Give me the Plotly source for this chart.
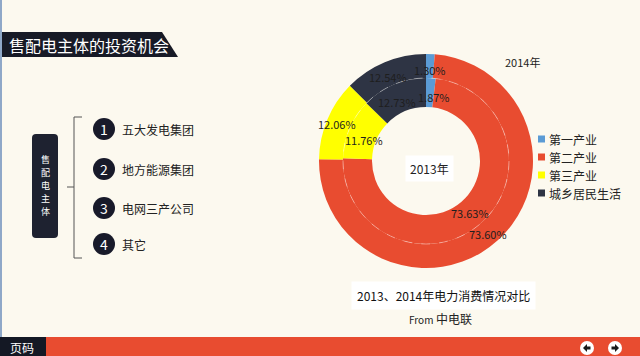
import plotly.graph_objects as go

# ---- data ----
categories = ["第一产业", "第二产业", "第三产业", "城乡居民生活"]
values_2013 = [1.87, 73.63, 11.76, 12.73]
values_2014 = [1.30, 73.60, 12.06, 12.54]
colors = ["#5B9BD5", "#E84C30", "#FFFF00", "#2E3444"]
subjects = ["五大发电集团", "地方能源集团", "电网三产公司", "其它"]
box_title = "售配电主体"

W, H = 640, 356
FONT = "Noto Sans CJK SC"
BG = "#FCF9EF"
DARK = "#171A26"


def dom_x(cx, r):
    return [(cx - r) / W, (cx + r) / W]


def dom_y(cy, r):
    yb = H - cy
    return [(yb - r) / H, (yb + r) / H]


CX, CY = 426, 161
R_OUT, R_MID, R_HOLE = 107, 83, 54

fig = go.Figure()
# empty helper trace so that pixel-based x/y axes exist for shapes & annotations
fig.add_trace(go.Scatter(x=[], y=[], showlegend=False, hoverinfo="skip"))
fig.add_trace(go.Pie(
    labels=categories, values=values_2014, sort=False, direction="clockwise",
    rotation=0, hole=R_MID / R_OUT, textinfo="none", hoverinfo="label+value",
    marker=dict(colors=colors, line=dict(width=0)),
    domain=dict(x=dom_x(CX, R_OUT), y=dom_y(CY, R_OUT)), showlegend=False,
    name="2014"))
fig.add_trace(go.Pie(
    labels=categories, values=values_2013, sort=False, direction="clockwise",
    rotation=0, hole=R_HOLE / R_MID, textinfo="none", hoverinfo="label+value",
    marker=dict(colors=colors, line=dict(width=0)),
    domain=dict(x=dom_x(CX, R_MID), y=dom_y(CY, R_MID)), showlegend=False,
    name="2013"))

fig.update_xaxes(range=[0, W], visible=False, fixedrange=True, domain=[0, 1])
fig.update_yaxes(range=[H, 0], visible=False, fixedrange=True, domain=[0, 1])

shapes = []
ann = []

# left slide border
shapes.append(dict(type="rect", x0=0, x1=2, y0=0, y1=H, fillcolor="#8FA8C8", line_width=0, layer="below"))
# title parallelogram
shapes.append(dict(type="path", path="M 2 32 L 162 32 L 178 57 L 2 57 Z", fillcolor=DARK, line_width=0, layer="below"))
ann.append(dict(x=7, y=45, text="售配电主体的投资机会", showarrow=False, xanchor="left", yanchor="middle",
                font=dict(family=FONT, size=16, color="white")))

# left rounded box
shapes.append(dict(type="path",
                   path="M 36 134 L 54 134 Q 58 134 58 138 L 58 234 Q 58 238 54 238 L 36 238 Q 32 238 32 234 L 32 138 Q 32 134 36 134 Z",
                   fillcolor="#1E2230", line_width=0, layer="below"))
for k, ch in enumerate(box_title):
    ann.append(dict(x=45, y=185.5 + (k - 2) * 13.2, text=ch, showarrow=False, xanchor="center", yanchor="middle",
                    font=dict(family=FONT, size=9, color="white")))

# bracket
shapes.append(dict(type="path", path="M 82 117 L 74 117 L 74 258 L 82 258", line=dict(color="#555555", width=1), layer="below"))
shapes.append(dict(type="line", x0=67, x1=74, y0=187, y1=187, line=dict(color="#555555", width=1), layer="below"))

item_y = [129, 169, 208, 244]
for i, (txt, yy) in enumerate(zip(subjects, item_y)):
    shapes.append(dict(type="circle", x0=93, x1=115, y0=yy - 11, y1=yy + 11, fillcolor="#181A2A", line_width=0, layer="below"))
    ann.append(dict(x=104, y=yy, text=str(i + 1), showarrow=False, xanchor="center", yanchor="middle",
                    font=dict(family=FONT, size=14, color="white")))
    ann.append(dict(x=120, y=yy, text=txt, showarrow=False, xanchor="left", yanchor="middle",
                    font=dict(family=FONT, size=12, color="#222222")))

# ring separator (faint)
shapes.append(dict(type="circle", x0=CX - R_MID, x1=CX + R_MID, y0=CY - R_MID, y1=CY + R_MID,
                   line=dict(color="rgba(255,255,255,0.4)", width=1, dash="dash"), layer="above"))

# pie labels
lab_fmt = lambda v: f"{v:.2f}%"
pos_2014 = [(430, 70), (488, 234), (337, 124), (388, 77)]
pos_2013 = [(434, 97), (470, 213), (364, 140), (397, 102)]
for v, (x, y) in zip(values_2014, pos_2014):
    ann.append(dict(x=x, y=y, text=lab_fmt(v), showarrow=False, xanchor="center", yanchor="middle",
                    font=dict(family="Liberation Sans Narrow, " + FONT, size=11, color="#1E1E1E")))
for v, (x, y) in zip(values_2013, pos_2013):
    ann.append(dict(x=x, y=y, text=lab_fmt(v), showarrow=False, xanchor="center", yanchor="middle",
                    font=dict(family="Liberation Sans Narrow, " + FONT, size=11, color="#1E1E1E")))

ann.append(dict(x=522, y=62, text="2014年", showarrow=False, xanchor="center", yanchor="middle",
                font=dict(family=FONT, size=11, color="#222222")))
ann.append(dict(x=CX + 3, y=168, text="2013年", showarrow=False, xanchor="center", yanchor="middle",
                bgcolor="white", borderpad=4,
                font=dict(family=FONT, size=12, color="#222222")))

# custom legend
leg_y = [139, 157, 175, 193]
for cat, col, yy in zip(categories, colors, leg_y):
    shapes.append(dict(type="rect", x0=538, x1=545, y0=yy - 3.5, y1=yy + 3.5, fillcolor=col, line_width=0, layer="above"))
    ann.append(dict(x=547, y=yy, text=cat, showarrow=False, xanchor="left", yanchor="middle",
                    font=dict(family=FONT, size=12, color="#222222")))

# caption
ann.append(dict(x=443, y=295, text="2013、2014年电力消费情况对比", showarrow=False, xanchor="center", yanchor="middle",
                bgcolor="white", borderpad=5,
                font=dict(family=FONT, size=12, color="#111111")))
ann.append(dict(x=440, y=318, text="<span style='font-size:10px'>From</span> 中电联", showarrow=False,
                xanchor="center", yanchor="middle",
                font=dict(family=FONT, size=12, color="#222222")))

# bottom bar
shapes.append(dict(type="rect", x0=0, x1=W, y0=337, y1=H, fillcolor="#E84C30", line_width=0, layer="below"))
shapes.append(dict(type="rect", x0=0, x1=46, y0=337, y1=H, fillcolor="#141824", line_width=0, layer="below"))
ann.append(dict(x=22, y=347, text="页码", showarrow=False, xanchor="center", yanchor="middle",
                font=dict(family=FONT, size=12, color="white")))
for cx, d in [(587, -1), (615, 1)]:
    shapes.append(dict(type="circle", x0=cx - 7, x1=cx + 7, y0=348 - 7, y1=348 + 7, fillcolor="white", line_width=0, layer="above"))
    p = (f"M {cx + 4*d} 348 L {cx} 344 L {cx} 346.5 L {cx - 3.5*d} 346.5 L {cx - 3.5*d} 349.5 "
         f"L {cx} 349.5 L {cx} 352 Z")
    shapes.append(dict(type="path", path=p, fillcolor="#1A1A1A", line_width=0, layer="above"))

fig.update_layout(
    width=W, height=H, margin=dict(l=0, r=0, t=0, b=0, pad=0),
    paper_bgcolor=BG, plot_bgcolor="rgba(0,0,0,0)",
    shapes=shapes, annotations=ann, showlegend=False,
    font=dict(family=FONT),
)
fig.write_html("out.html", config={"displayModeBar": False},
               post_script="document.body.style.margin='0';document.body.style.overflow='hidden';")
